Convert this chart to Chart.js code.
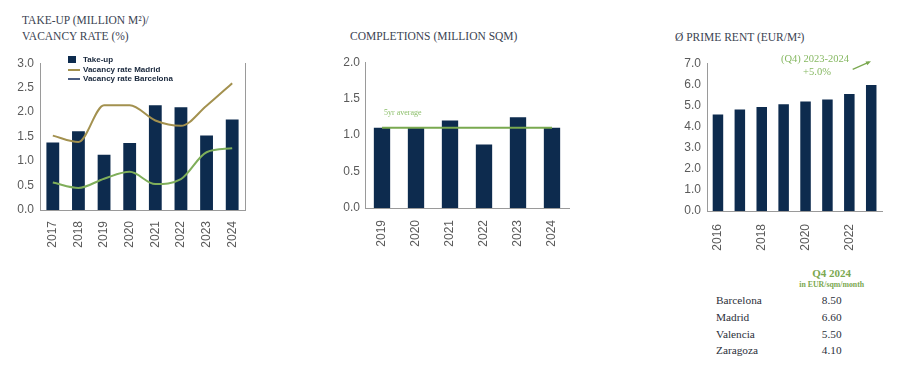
<!DOCTYPE html>
<html>
<head>
<meta charset="utf-8">
<script src="https://cdn.jsdelivr.net/npm/chart.js@4.4.1/dist/chart.umd.min.js"></script>
<style>
  body { margin: 0; background: #fff; width: 899px; height: 382px; position: relative; overflow: hidden;
         font-family: "Liberation Serif", "Times New Roman", serif; }
  canvas { position: absolute; }
  .title { position: absolute; color: #3b4352; font-size: 11.5px; line-height: 16px; white-space: nowrap; }
  .leg { position: absolute; font: bold 8px "Liberation Sans", Arial, sans-serif; color: #16253a; line-height: 10px; white-space: nowrap; }
  .sw { position: absolute; }
  .green { position: absolute; color: #86b862; white-space: nowrap; text-align: center; }
  .tab { position: absolute; font-size: 11.3px; line-height: 14px; color: #2b2f3a; white-space: nowrap; }
</style>
</head>
<body>

<div class="title" style="left:22px;top:12px">TAKE-UP (MILLION M²)/</div>
<div class="title" style="left:22px;top:28px">VACANCY RATE (%)</div>
<div class="title" style="left:350px;top:28px">COMPLETIONS (MILLION SQM)</div>
<div class="title" style="left:675px;top:28.5px">Ø PRIME RENT (EUR/M²)</div>

<canvas id="takeup" width="260" height="210" style="left:0;top:50px"></canvas>
<canvas id="completions" width="250" height="210" style="left:330px;top:50px"></canvas>
<canvas id="rent" width="239" height="210" style="left:660px;top:50px"></canvas>

<!-- legend of the take-up chart -->
<div class="sw" style="left:68px;top:56px;width:8px;height:7px;background:#0d2b4e"></div>
<div class="leg" style="left:83px;top:55px">Take-up</div>
<div class="sw" style="left:68px;top:68.5px;width:12px;height:2px;background:#a3914f"></div>
<div class="leg" style="left:83px;top:64.5px">Vacancy rate Madrid</div>
<div class="sw" style="left:68px;top:78px;width:12px;height:2px;background:#4b5d82"></div>
<div class="leg" style="left:83px;top:74px">Vacancy rate Barcelona</div>

<!-- rent annotation -->
<div class="green" style="left:765px;width:100px;top:52px;font-size:10.5px;line-height:14px">(Q4) 2023-2024</div>
<div class="green" style="left:767px;width:100px;top:65px;font-size:10.5px;line-height:14px">+5.0%</div>
<svg style="position:absolute;left:845px;top:55px" width="35" height="22">
  <line x1="7.7" y1="14.3" x2="24" y2="7.2" stroke="#7aa84f" stroke-width="1.3"/>
  <polygon points="26,6.3 20.5,6.5 22.3,10.2" fill="#7aa84f"/>
</svg>

<!-- Q4 2024 table -->
<div class="green" style="left:781.7px;width:100px;top:266px;font-size:11px;line-height:14px;font-weight:bold;color:#7ba84f">Q4 2024</div>
<div class="green" style="left:781.7px;width:100px;top:280px;font-size:7.8px;line-height:10px;font-weight:bold;color:#7ba84f">in EUR/sqm/month</div>
<div id="table"></div>

<script>
// take-up / vacancy
const takeupYears = ["2017", "2018", "2019", "2020", "2021", "2022", "2023", "2024"];
const takeUp = [1.38, 1.61, 1.13, 1.37, 2.14, 2.10, 1.52, 1.85];
const vacancyMadrid = [1.52, 1.39, 2.14, 2.14, 1.83, 1.72, 2.13, 2.59];
const vacancyBarcelona = [0.56, 0.45, 0.64, 0.78, 0.53, 0.63, 1.18, 1.26];

// completions
const completionYears = ["2019", "2020", "2021", "2022", "2023", "2024"];
const completions = [1.10, 1.10, 1.20, 0.87, 1.245, 1.10];
const fiveYrAverage = 1.1;

// prime rent
const rentYears = ["2016", "2017", "2018", "2019", "2020", "2021", "2022", "2023"];
const primeRent = [4.57, 4.81, 4.92, 5.06, 5.19, 5.28, 5.54, 5.97];

// table
const tableCities = ["Barcelona", "Madrid", "Valencia", "Zaragoza"];
const tableRents = ["8.50", "6.60", "5.50", "4.10"];

const NAVY = "#0d2b4e";
const AXIS = "#9a9a9a";
const tickFont = { family: "'Liberation Sans', Arial, sans-serif", size: 12 };
const tickColor = "#5a5a5a";

// table rows
const tbl = document.getElementById("table");
tableCities.forEach((c, i) => {
  const top = 293 + i * 16.8;
  tbl.insertAdjacentHTML("beforeend",
    `<div class="tab" style="left:716px;top:${top}px">${c}</div>` +
    `<div class="tab" style="left:781.7px;width:100px;text-align:center;top:${top}px">${tableRents[i]}</div>`);
});

function yAxis(max, step, width, pad) {
  return {
    min: 0, max: max,
    ticks: { stepSize: step, color: tickColor, font: tickFont, padding: pad, callback: v => v.toFixed(1) },
    grid: { display: false, drawTicks: false },
    border: { display: true, color: AXIS },
    afterFit: s => { s.width = width; }
  };
}

function xAxis(height, pad, cb) {
  const ticks = { color: tickColor, font: tickFont, padding: pad, minRotation: 90, maxRotation: 90, autoSkip: false };
  if (cb) ticks.callback = cb;
  return {
    offset: true,
    ticks: ticks,
    grid: { display: false, drawTicks: false },
    border: { display: true, color: AXIS },
    afterFit: s => { s.height = height; }
  };
}

const common = {
  responsive: false,
  animation: false,
  devicePixelRatio: 1,
  plugins: { legend: { display: false }, tooltip: { enabled: false } }
};

new Chart(document.getElementById("takeup"), {
  type: "bar",
  data: {
    labels: takeupYears,
    datasets: [
      { type: "line", label: "Vacancy rate Madrid", data: vacancyMadrid, borderColor: "#a3914f", borderWidth: 2,
        pointRadius: 0, cubicInterpolationMode: "monotone", order: 0 },
      { type: "line", label: "Vacancy rate Barcelona", data: vacancyBarcelona, borderColor: "#7fae5a", borderWidth: 2,
        pointRadius: 0, cubicInterpolationMode: "monotone", order: 0 },
      { label: "Take-up", data: takeUp, backgroundColor: NAVY, categoryPercentage: 1, barPercentage: 0.5, order: 1 }
    ]
  },
  options: {
    ...common,
    layout: { padding: { top: 12, right: 15, left: 0, bottom: 0 } },
    scales: {
      x: xAxis(50, 11),
      y: yAxis(3, 0.5, 40, 6),
      y1: {
        position: "right", min: 0, max: 3,
        ticks: { display: false },
        grid: { display: false, drawTicks: false },
        border: { display: true, color: AXIS },
        afterFit: s => { s.width = 0; }
      }
    }
  }
});

const avgLabel = {
  id: "avgLabel",
  afterDatasetsDraw(chart) {
    const { ctx, scales } = chart;
    ctx.save();
    ctx.font = "8px 'Liberation Serif', serif";
    ctx.fillStyle = "#8cbf6a";
    ctx.textBaseline = "alphabetic";
    ctx.fillText("5yr average", scales.x.getPixelForValue(0) + 2, scales.y.getPixelForValue(fiveYrAverage) - 12.5);
    ctx.restore();
  }
};

new Chart(document.getElementById("completions"), {
  type: "bar",
  data: {
    labels: completionYears,
    datasets: [
      { type: "line", label: "5yr average", data: completions.map(() => fiveYrAverage), borderColor: "#79a94f",
        borderWidth: 2, pointRadius: 0, order: 0 },
      { label: "Completions", data: completions, backgroundColor: NAVY, categoryPercentage: 1, barPercentage: 0.48, order: 1 }
    ]
  },
  options: {
    ...common,
    layout: { padding: { top: 9, right: 11, left: 0, bottom: 0 } },
    scales: {
      x: xAxis(52, 12),
      y: yAxis(2, 0.5, 35, 5)
    }
  },
  plugins: [avgLabel]
});

new Chart(document.getElementById("rent"), {
  type: "bar",
  data: {
    labels: rentYears,
    datasets: [
      { label: "Prime rent", data: primeRent, backgroundColor: NAVY, categoryPercentage: 1, barPercentage: 0.48 }
    ]
  },
  options: {
    ...common,
    layout: { padding: { top: 12, right: 6, left: 0, bottom: 0 } },
    scales: {
      x: xAxis(49, 13, function (v, i) { return i % 2 === 0 ? this.getLabelForValue(v) : ""; }),
      y: yAxis(7, 1, 47, 6)
    }
  }
});
</script>
</body>
</html>
